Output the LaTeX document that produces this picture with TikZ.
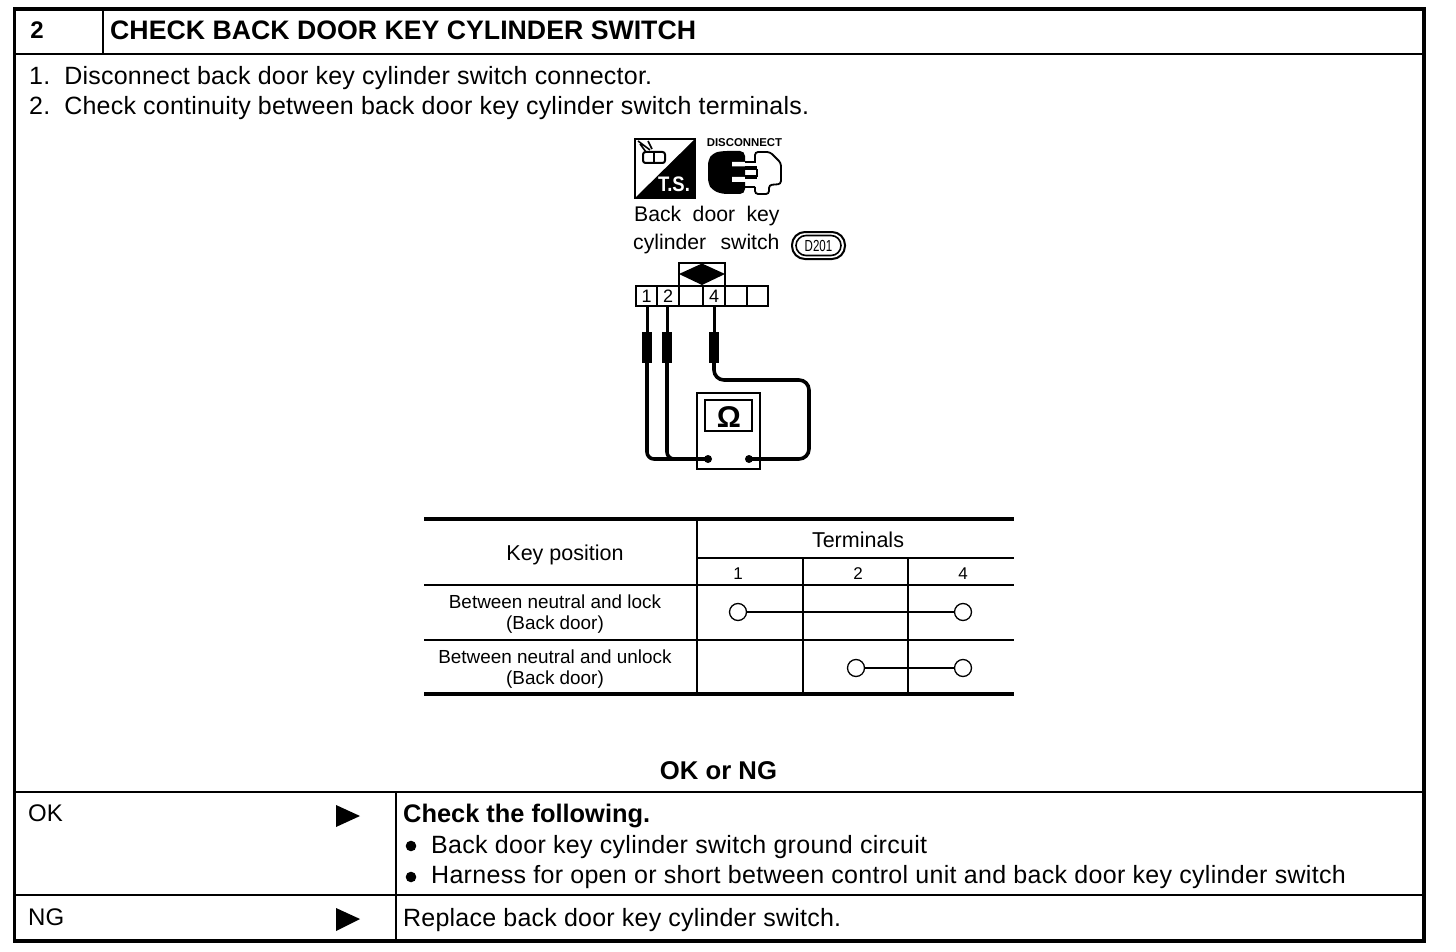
\documentclass[tikz,border=0pt]{standalone}
\usepackage{fontspec}
\setmainfont{Liberation Sans}
\newcommand{\ls}{\addfontfeatures{LetterSpace=0.9}}
\newcommand{\lsw}{\addfontfeatures{LetterSpace=1.2}}
\usetikzlibrary{shapes.geometric}
\tikzset{
 x=1pt,y=-1pt,
 txt/.style={inner sep=0pt,anchor=base west,font=\fontsize{25}{25}\selectfont\ls},
 txtw/.style={inner sep=0pt,anchor=base west,font=\fontsize{25}{25}\selectfont\lsw},
 plain/.style={inner sep=0pt,anchor=base west,font=\fontsize{24.5}{25}\selectfont},
 tbl/.style={inner sep=0pt,align=center,font=\fontsize{18.9}{21}\selectfont},
 hd/.style={inner sep=0pt,font=\bfseries\fontsize{26.7}{26.7}\selectfont},
 thick1/.style={line width=2.6pt},
 thin1/.style={line width=1.6pt},
 lead/.style={line width=3.6pt,line join=round},
 probe/.style={fill=black,draw=none},
 circ/.style={circle,draw,line width=1.3pt,fill=white,minimum size=17pt,inner sep=0pt},
 term/.style={draw,line width=1.9pt,minimum height=20pt,inner sep=0pt,font=\fontsize{18}{18}\selectfont},
 lab/.style={inner sep=0pt,anchor=base west,font=\fontsize{21.2}{21.2}\selectfont},
}
\begin{document}
\begin{tikzpicture}
\useasboundingbox (0,0) rectangle (1456,952);
\fill[white] (0,0) rectangle (1456,952);
% outer frame and rows
\draw[line width=3.8pt] (14.5,9) rectangle (1424,941);
\draw[line width=2.2pt] (14,54) -- (1424,54);
\draw[thin1] (103,9) -- (103,54);
\draw[thick1] (14,792) -- (1424,792);
\draw[thick1] (14,895) -- (1424,895);
\draw[thin1] (396,792) -- (396,941);
\node[hd,anchor=base] (num) at (37,39) {\fontsize{24}{24}\selectfont 2};
\node[hd,anchor=base west] (title) at (110,40) {CHECK BACK DOOR KEY CYLINDER SWITCH};
\node[txt] (s1) at (29,84.5) {1.\hspace{14pt}Disconnect back door key cylinder switch connector.};
\node[txt] (s2) at (29,114.5) {2.\hspace{14pt}Check continuity between back door key cylinder switch terminals.};
% T.S. icon
\draw[line width=1.6pt] (635,139) rectangle (695,198);
\fill (695,139) -- (695,198) -- (635,198) -- cycle;
\node[inner sep=0pt,text=white,font=\bfseries\fontsize{21}{21}\selectfont,xscale=.88] (ts) at (674,184) {T.S.};
\draw[line width=2pt,rounded corners=2.5pt] (643,152) rectangle (665,163);
\draw[line width=1.6pt] (654,152) -- (654,163);
\draw[line width=1.6pt] (646,152) -- (640,144) (650,150) -- (638,141) (652,149) -- (648,141);
% disconnect icon
\node[inner sep=0pt,font=\bfseries\fontsize{11.4}{11.4}\selectfont] (dis) at (744.5,143) {DISCONNECT};
\fill[rounded corners=5pt] (708,160) -- (713,153) -- (722,151) -- (745,151) -- (745,194) -- (722,194) -- (712,190) -- (708,183) -- cycle;
\fill[white] (732,162) rectangle (746,166.5) (732,177) rectangle (746,182);
\draw[line width=1.8pt] (745,162) -- (755,162) -- (755,155);
\draw[line width=1.8pt,rounded corners=3pt] (755,156) -- (755,152) -- (770,152) -- (781,163) -- (781,184) -- (769,185) -- (769,194) -- (755,194) -- (755,187);
\draw[line width=1.8pt] (755,187) -- (745,187);
\fill (745,166) rectangle (757,170);
\fill (745,175.5) rectangle (757,179);
\draw[line width=1.6pt] (757,169) -- (757,177);
% connector label
\node[lab] (lab1) at (634,222) {Back\hspace{5.5pt} door\hspace{5.5pt} key};
\node[lab] (lab2) at (633,249) {cylinder\hspace{8.5pt} switch};
\draw[line width=2pt,rounded corners=13pt] (792,232) rectangle (845,259);
\draw[line width=1.6pt,rounded corners=10pt] (796,235.5) rectangle (841,255.5);
\node[inner sep=0pt,font=\fontsize{16}{16}\selectfont,xscale=.72] (d201) at (818.5,246) {D201};
% connector
\draw[line width=1.8pt] (679,285) -- (679,263) -- (725,263) -- (725,285);
\fill (679,274) -- (702,263.5) -- (725,274) -- (702,285) -- cycle;
\node[term,minimum width=21pt] (t1) at (646.5,296) {1};
\node[term,minimum width=22pt] (t2) at (668,296) {2};
\node[term,minimum width=24pt] (t3) at (691,296) {};
\node[term,minimum width=22pt] (t4) at (714,296) {4};
\node[term,minimum width=22pt] (t5) at (736,296) {};
\node[term,minimum width=21pt] (t6) at (757.5,296) {};
% leads
\coordinate (m1) at (708,459);
\coordinate (m2) at (749,459);
\draw[line width=3pt] (647,306) -- (647,332);
\draw[line width=3pt] (667,306) -- (667,332);
\draw[line width=3pt] (714,306) -- (714,332);
\draw[lead,rounded corners=7pt] (647,360) -- (647,459) -- (m1);
\draw[lead,rounded corners=7pt] (667,360) -- (667,459) -- (m1);
\draw[lead,rounded corners=10pt] (714,360) -- (714,380) -- (809,380) -- (809,459) -- (m2);
\fill[probe] (641.5,332) rectangle (651.5,363);
\fill[probe] (661.5,332) rectangle (671.5,363);
\fill[probe] (708.5,332) rectangle (718.5,363);
% meter
\draw[line width=2.4pt] (697,393) rectangle (760,469);
\draw[line width=2.6pt] (705,400) rectangle (752,431);
\node[inner sep=0pt,font=\bfseries\fontsize{30}{30}\selectfont] (omega) at (729,417) {Ω};
\fill (m1) circle (4pt);
\fill (m2) circle (4pt);
% table
\draw[line width=3.2pt] (424,519) -- (1014,519);
\draw[line width=1.8pt] (697,558) -- (1014,558);
\draw[line width=2pt] (424,585) -- (1014,585);
\draw[line width=1.8pt] (424,640) -- (1014,640);
\draw[line width=3.2pt] (424,694) -- (1014,694);
\draw[line width=2.6pt] (697,519) -- (697,694);
\draw[line width=1.7pt] (803,558) -- (803,694);
\draw[line width=1.7pt] (908,558) -- (908,694);
\node[tbl,font=\fontsize{21.5}{22}\selectfont] (kp) at (565,555) {Key position};
\node[tbl,font=\fontsize{21.5}{22}\selectfont] (term) at (858,540) {Terminals};
\node[tbl,font=\fontsize{17}{17}\selectfont] (h1) at (738,574) {1};
\node[tbl,font=\fontsize{17}{17}\selectfont] (h2) at (858,574) {2};
\node[tbl,font=\fontsize{17}{17}\selectfont] (h4) at (963,574) {4};
\node[tbl] (r1) at (555,614) {Between neutral and lock\\(Back door)};
\node[tbl] (r2) at (555,669) {Between neutral and unlock\\(Back door)};
\node[circ] (a1) at (738,612) {};
\node[circ] (a4) at (963,612) {};
\node[circ] (b2) at (856,668) {};
\node[circ] (b4) at (963,668) {};
\draw[line width=1.7pt] (a1) -- (a4);
\draw[line width=2pt] (b2) -- (b4);
\node[inner sep=0pt,font=\bfseries\fontsize{25.7}{25.7}\selectfont] (okng) at (718.5,771) {OK or NG};
% result rows
\node[plain,font=\fontsize{24}{24}\selectfont] (ok) at (28,821.5) {OK};
\node[plain,font=\fontsize{24}{24}\selectfont] (ng) at (28,925.5) {NG};
\fill (336,805) -- (360,816) -- (336,827) -- cycle;
\fill (336,908) -- (360,919) -- (336,931) -- cycle;
\node[txt,font=\bfseries\fontsize{25.4}{25.4}\selectfont] (chk) at (403,822.5) {Check the following.};
\fill (411,846) circle (5.3pt);
\fill (411,877) circle (5.3pt);
\node[txtw] (c1) at (431,853) {Back door key cylinder switch ground circuit};
\node[txtw] (c2) at (431,883) {Harness for open or short between control unit and back door key cylinder switch};
\node[txt] (rep) at (403,926.5) {Replace back door key cylinder switch.};
\end{tikzpicture}
\end{document}
